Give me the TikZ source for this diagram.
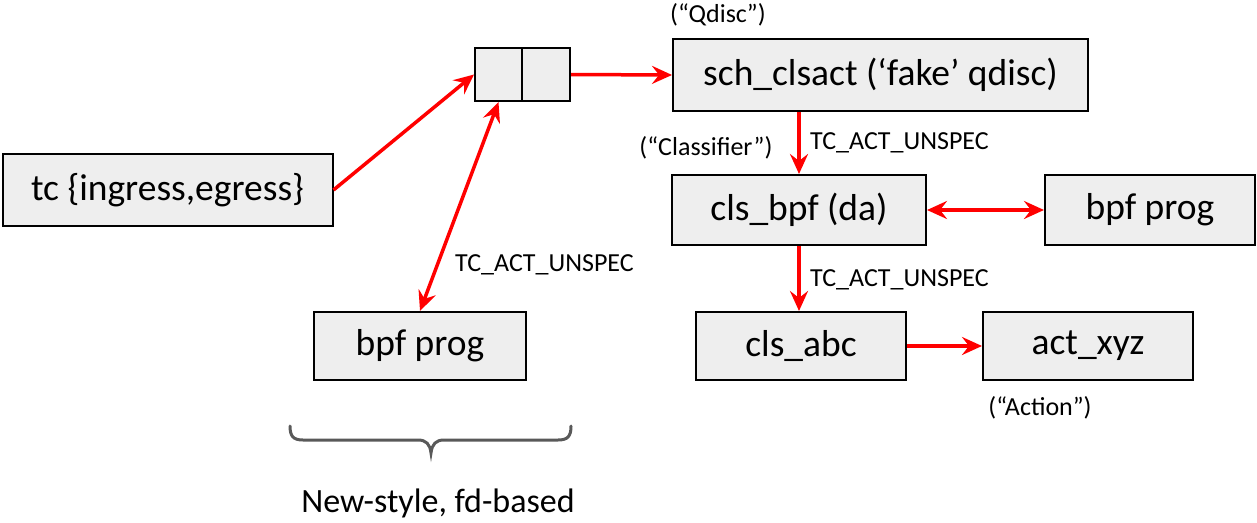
\documentclass[tikz,border=0pt]{standalone}
\usepackage{fontspec}
\setmainfont{Carlito}
\usetikzlibrary{arrows.meta}
\definecolor{boxgrey}{HTML}{EEEEEE}
\definecolor{bracegrey}{HTML}{595959}
\tikzset{
  box/.style={draw=black, line width=2pt, fill=boxgrey, inner sep=0pt,
    font=\fontsize{37.5}{42}\selectfont},
  tip/.tip={Stealth[length=20pt,width=18pt,inset=7pt]},
  conn/.style={draw=red, line width=3.5pt, -tip},
  both/.style={draw=red, line width=3.5pt, tip-tip},
  lbl/.style={font=\fontsize{26}{30}\selectfont, inner sep=0pt},
}
\begin{document}
\begin{tikzpicture}[x=1pt,y=-1pt]
\useasboundingbox (0,0) rectangle (1257,522);

% boxes
\node[box, minimum width=330pt, minimum height=72pt] (tc) at (167.5,190) {tc \{ingress,egress\}};
\node[box, minimum width=47pt, minimum height=53pt] (qleft) at (498.5,74.5) {};
\node[box, minimum width=48pt, minimum height=53pt] (qright) at (546,74.5) {};
\node[box, minimum width=415pt, minimum height=72pt] (sch) at (880.5,75) {sch\_clsact (‘fake’ qdisc)};
\node[box, minimum width=254pt, minimum height=70pt] (clsbpf) at (799,210) {cls\_bpf (da)};
\node[box, minimum width=210pt, minimum height=70pt] (bpfR) at (1150,210) {bpf prog};
\node[box, minimum width=212pt, minimum height=68pt] (bpfL) at (420,346) {bpf prog};
\node[box, minimum width=210pt, minimum height=68pt] (clsabc) at (801,346) {cls\_abc};
\node[box, minimum width=210pt, minimum height=68pt] (actxyz) at (1088,346) {act\_xyz};

% connectors
\draw[conn] (tc.east) -- (qleft.west);
\draw[conn] (qright.east) -- (sch.west);
\draw[both] (bpfL.north) -- (qleft.south);
\draw[conn] (clsbpf.north |- sch.south) -- (clsbpf.north);
\draw[both] (clsbpf.east) -- (bpfR.west);
\draw[conn] (clsbpf.south) -- (clsbpf.south |- clsabc.north);
\draw[conn] (clsabc.east) -- (actxyz.west);

% labels
\node[lbl] (lqdisc) at (718,15) {(“Qdisc”)};
\node[lbl] (lclass) at (706,148) {(“Classifier”)};
\node[lbl, anchor=west] (u1) at (810,143) {TC\_ACT\_UNSPEC};
\node[lbl, anchor=west] (u2) at (810,280) {TC\_ACT\_UNSPEC};
\node[lbl, anchor=west] (u3) at (455,265) {TC\_ACT\_UNSPEC};
\node[lbl] (laction) at (1040,408) {(“Action”)};

% brace and caption
\draw[bracegrey, line width=3pt, line cap=round]
  (290,426) .. controls (290,436) and (293,440) .. (303,440) -- (418,440)
  .. controls (426,440) and (430,444) .. (431,453)
  .. controls (432,444) and (436,440) .. (444,440) -- (558,440)
  .. controls (568,440) and (571,436) .. (571,426);
\node[font=\fontsize{34}{39}\selectfont, inner sep=0pt] (caption) at (438,503) {New-style, fd-based};
\end{tikzpicture}
\end{document}
